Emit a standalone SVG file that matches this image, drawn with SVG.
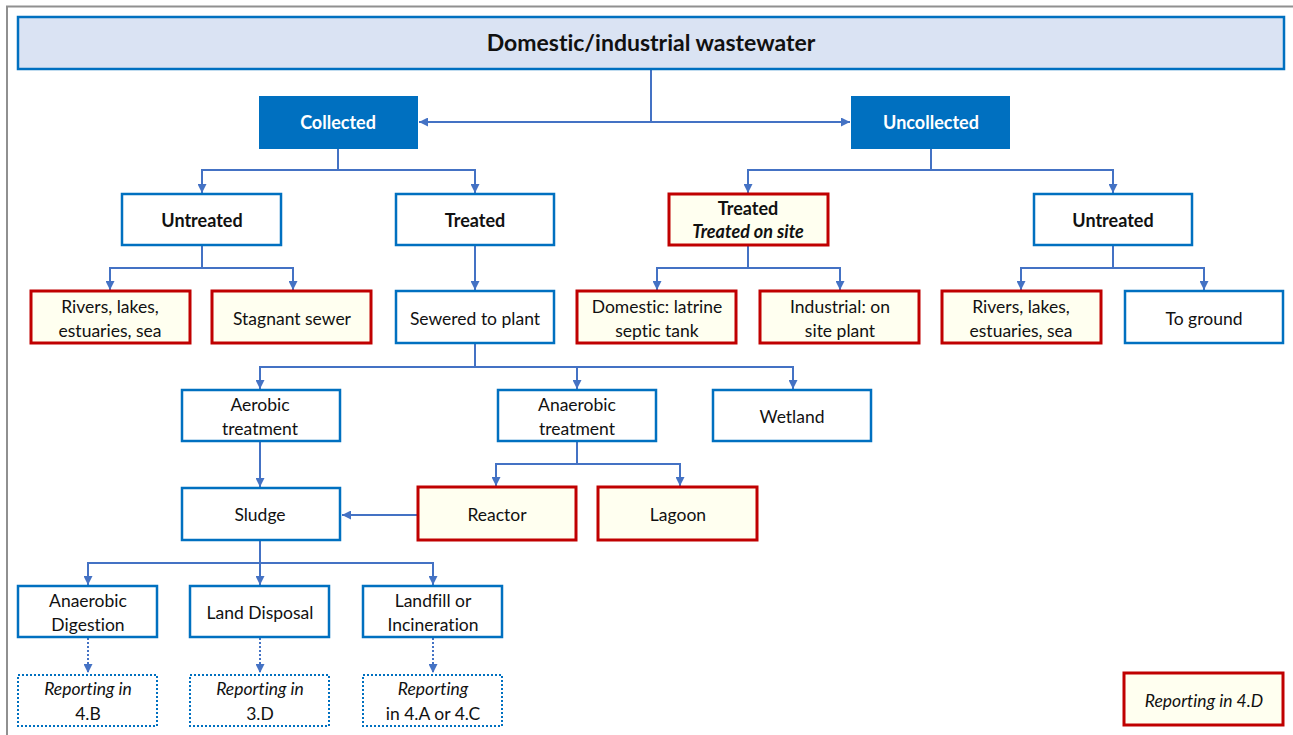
<svg xmlns="http://www.w3.org/2000/svg" width="1293" height="735" viewBox="0 0 1293 735">
  <style>
    .t { font-family: Lato, "Open Sans", "Liberation Sans", sans-serif; font-size: 17.5px; fill: #111; text-anchor: middle; font-variant-ligatures: none; }
    .b { font-weight: bold; font-size: 18px; }
    .i { font-style: italic; }
    .w { fill: #fff; font-weight: bold; font-size: 18px; }
    .blue { fill: #fff; stroke: #0070C0; stroke-width: 2.5; }
    .solid { fill: #0070C0; stroke: none; }
    .red { fill: #FFFFF0; stroke: #C00000; stroke-width: 3; }
    .dot { fill: #fff; stroke: #0070C0; stroke-width: 2; stroke-dasharray: 2 2; }
    .c { fill: none; stroke: #4472C4; stroke-width: 2; }
    .cd { fill: none; stroke: #4472C4; stroke-width: 2; stroke-dasharray: 2 2; }
  </style>
  <defs>
    <marker id="arr" viewBox="0 0 10 10" refX="10" refY="5" markerWidth="9" markerHeight="9" markerUnits="userSpaceOnUse" orient="auto">
      <path d="M0,0 L10,5 L0,10 z" fill="#4472C4"/>
    </marker>
  </defs>

  <rect width="1293" height="735" fill="#fff"/>
  <!-- outer frame -->
  <rect x="7" y="6.5" width="1300" height="740" fill="none" stroke="#909090" stroke-width="2"/>

  <!-- connectors -->
  <g id="connectors">
    <path class="c" d="M651,69 V122"/>
    <path class="c" d="M651,122 H419" marker-end="url(#arr)"/>
    <path class="c" d="M651,122 H850" marker-end="url(#arr)"/>

    <path class="c" d="M338,149 V170 H202 V193" marker-end="url(#arr)"/>
    <path class="c" d="M338,170 H475 V193" marker-end="url(#arr)"/>
    <path class="c" d="M931,149 V170 H748 V193" marker-end="url(#arr)"/>
    <path class="c" d="M931,170 H1113 V193" marker-end="url(#arr)"/>

    <path class="c" d="M202,245 V268 H110 V290" marker-end="url(#arr)"/>
    <path class="c" d="M202,268 H293 V290" marker-end="url(#arr)"/>
    <path class="c" d="M475,245 V290" marker-end="url(#arr)"/>
    <path class="c" d="M748,245 V268 H657 V290" marker-end="url(#arr)"/>
    <path class="c" d="M748,268 H840 V290" marker-end="url(#arr)"/>
    <path class="c" d="M1113,245 V268 H1021 V290" marker-end="url(#arr)"/>
    <path class="c" d="M1113,268 H1204 V290" marker-end="url(#arr)"/>

    <path class="c" d="M475,343 V367 H260 V389" marker-end="url(#arr)"/>
    <path class="c" d="M475,367 H577 V389" marker-end="url(#arr)"/>
    <path class="c" d="M577,367 H793 V389" marker-end="url(#arr)"/>

    <path class="c" d="M260,441 V487" marker-end="url(#arr)"/>
    <path class="c" d="M577,441 V464 H496 V486" marker-end="url(#arr)"/>
    <path class="c" d="M577,464 H680 V486" marker-end="url(#arr)"/>
    <path class="c" d="M417,515 H342" marker-end="url(#arr)"/>

    <path class="c" d="M260,540 V563 H88 V585" marker-end="url(#arr)"/>
    <path class="c" d="M260,563 V585" marker-end="url(#arr)"/>
    <path class="c" d="M260,563 H433 V585" marker-end="url(#arr)"/>

    <path class="cd" d="M88,638 V673" marker-end="url(#arr)"/>
    <path class="cd" d="M260,638 V673" marker-end="url(#arr)"/>
    <path class="cd" d="M433,638 V673" marker-end="url(#arr)"/>
  </g>

  <g id="wastewater">
    <rect x="18" y="17" width="1266" height="52" fill="#DAE3F3" stroke="#0070C0" stroke-width="2.5"/>
    <text class="t b" x="651" y="51" style="font-size:23px">Domestic/industrial wastewater</text>
  </g>

  <g id="collected">
    <rect class="solid" x="259" y="96" width="159" height="53"/>
    <text class="t w" x="338" y="129">Collected</text>
  </g>
  <g id="uncollected">
    <rect class="solid" x="851" y="96" width="159" height="53"/>
    <text class="t w" x="931" y="129">Uncollected</text>
  </g>

  <g id="untreated-collected">
    <rect class="blue" x="122" y="194" width="159" height="51"/>
    <text class="t b" x="202" y="227">Untreated</text>
  </g>
  <g id="treated-collected">
    <rect class="blue" x="396" y="194" width="158" height="51"/>
    <text class="t b" x="475" y="227">Treated</text>
  </g>
  <g id="treated-onsite">
    <rect class="red" x="669" y="194" width="159" height="51"/>
    <text class="t b" x="748" y="215">Treated</text>
    <text class="t b i" x="748" y="238">Treated on site</text>
  </g>
  <g id="untreated-uncollected">
    <rect class="blue" x="1034" y="194" width="158" height="51"/>
    <text class="t b" x="1113" y="227">Untreated</text>
  </g>

  <g id="rivers-collected">
    <rect class="red" x="31" y="291" width="159" height="52"/>
    <text class="t" x="110" y="313">Rivers, lakes,</text>
    <text class="t" x="110" y="337">estuaries, sea</text>
  </g>
  <g id="stagnant-sewer">
    <rect class="red" x="212" y="291" width="159" height="52"/>
    <text class="t" x="292" y="325">Stagnant sewer</text>
  </g>
  <g id="sewered-to-plant">
    <rect class="blue" x="396" y="291" width="158" height="52"/>
    <text class="t" x="475" y="325">Sewered to plant</text>
  </g>
  <g id="domestic-latrine">
    <rect class="red" x="577" y="291" width="159" height="52"/>
    <text class="t" x="657" y="313">Domestic: latrine</text>
    <text class="t" x="657" y="337">septic tank</text>
  </g>
  <g id="industrial-onsite">
    <rect class="red" x="760" y="291" width="159" height="52"/>
    <text class="t" x="840" y="313">Industrial: on</text>
    <text class="t" x="840" y="337">site plant</text>
  </g>
  <g id="rivers-uncollected">
    <rect class="red" x="942" y="291" width="159" height="52"/>
    <text class="t" x="1021" y="313">Rivers, lakes,</text>
    <text class="t" x="1021" y="337">estuaries, sea</text>
  </g>
  <g id="to-ground">
    <rect class="blue" x="1125" y="291" width="158" height="52"/>
    <text class="t" x="1204" y="325">To ground</text>
  </g>

  <g id="aerobic">
    <rect class="blue" x="182" y="390" width="158" height="51"/>
    <text class="t" x="260" y="411">Aerobic</text>
    <text class="t" x="260" y="435">treatment</text>
  </g>
  <g id="anaerobic">
    <rect class="blue" x="498" y="390" width="158" height="51"/>
    <text class="t" x="577" y="411">Anaerobic</text>
    <text class="t" x="577" y="435">treatment</text>
  </g>
  <g id="wetland">
    <rect class="blue" x="713" y="390" width="158" height="51"/>
    <text class="t" x="792" y="423">Wetland</text>
  </g>

  <g id="sludge">
    <rect class="blue" x="182" y="488" width="158" height="52"/>
    <text class="t" x="260" y="521">Sludge</text>
  </g>
  <g id="reactor">
    <rect class="red" x="418" y="487" width="158" height="53"/>
    <text class="t" x="497" y="521">Reactor</text>
  </g>
  <g id="lagoon">
    <rect class="red" x="598" y="487" width="159" height="53"/>
    <text class="t" x="678" y="521">Lagoon</text>
  </g>

  <g id="anaerobic-digestion">
    <rect class="blue" x="18" y="586" width="139" height="51"/>
    <text class="t" x="88" y="607">Anaerobic</text>
    <text class="t" x="88" y="631">Digestion</text>
  </g>
  <g id="land-disposal">
    <rect class="blue" x="190" y="586" width="139" height="51"/>
    <text class="t" x="260" y="619">Land Disposal</text>
  </g>
  <g id="landfill">
    <rect class="blue" x="363" y="586" width="139" height="51"/>
    <text class="t" x="433" y="607">Landfill or</text>
    <text class="t" x="433" y="631">Incineration</text>
  </g>

  <g id="report-4b">
    <rect class="dot" x="18" y="675" width="139" height="51"/>
    <text class="t i" x="88" y="695">Reporting in</text>
    <text class="t" x="88" y="720">4.B</text>
  </g>
  <g id="report-3d">
    <rect class="dot" x="190" y="675" width="139" height="51"/>
    <text class="t i" x="260" y="695">Reporting in</text>
    <text class="t" x="260" y="720">3.D</text>
  </g>
  <g id="report-4a4c">
    <rect class="dot" x="363" y="675" width="139" height="51"/>
    <text class="t i" x="433" y="695">Reporting</text>
    <text class="t" x="433" y="720">in 4.A or 4.C</text>
  </g>

  <g id="report-4d">
    <rect class="red" x="1124" y="673" width="159" height="52"/>
    <text class="t i" x="1204" y="707">Reporting in 4.D</text>
  </g>
</svg>
